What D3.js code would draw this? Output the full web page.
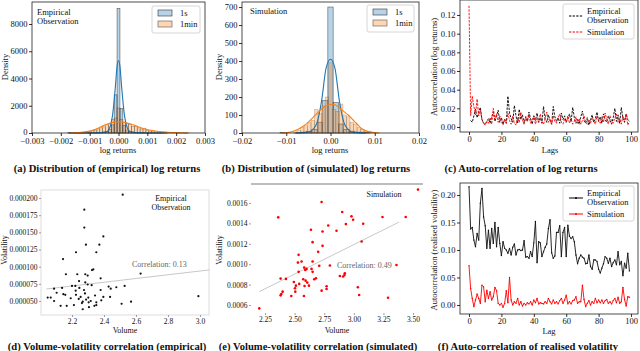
<!DOCTYPE html>
<html><head><meta charset="utf-8">
<script src="https://cdn.jsdelivr.net/npm/d3@7"></script>
<style>
body{margin:0;background:#fff}
svg{display:block}
</style>
</head><body>
<svg id="fig" width="640" height="351" style="font-family:'Liberation Serif','DejaVu Serif',serif"></svg>
<script>
// ---------- DATA ----------
// (a) empirical log returns
const a1sWidth = 0.0001;
const a1sCenters = [-0.0017,-0.0016,-0.0015,-0.0014,-0.0013,-0.0012,-0.0011,-0.001,-0.0009,-0.0008,-0.0007,-0.0006,-0.0005,-0.0004,-0.0003,-0.0002,-0.0001,0,0.0001,0.0002,0.0003,0.0004,0.0005,0.0006,0.0007,0.0008,0.0009,0.001,0.0011,0.0012,0.0013,0.0014,0.0015];
const a1sHeights = [10,5,10,8,10,12,15,15,18,20,30,40,60,120,250,600,2800,9150,1800,550,220,100,60,40,30,20,15,12,10,8,6,5,8];
const a1mWidth = 0.0001;
const a1mCenters = [-0.0017,-0.0016,-0.0015,-0.0014,-0.0013,-0.0012,-0.0011,-0.001,-0.0009,-0.0008,-0.0007,-0.0006,-0.0005,-0.0004,-0.0003,-0.0002,-0.0001,0,0.0001,0.0002,0.0003,0.0004,0.0005,0.0006,0.0007,0.0008,0.0009,0.001,0.0011,0.0012,0.0013,0.0014,0.0015,0.0016,0.0017,0.0018,0.0019,0.0021,0.0023,0.0024];
const a1mHeights = [30,0,20,40,30,60,90,120,180,220,300,380,450,600,700,1000,1100,1830,1000,800,720,650,480,500,380,300,350,220,150,100,80,60,40,30,20,10,10,5,5,5];
const aKde1sX = [-0.0017,-0.001,-0.0006,-0.0004,-0.0003,-0.0002,-0.0001,-0.00005,0,0.00005,0.0001,0.0002,0.0003,0.0004,0.0006,0.001,0.0017];
const aKde1sY = [0,5,30,100,400,1400,3600,4900,5300,4900,3600,1400,400,100,30,5,0];
const aKde1mX = [-0.0017,-0.0014,-0.0011,-0.0008,-0.0005,-0.0002,0,0.0002,0.0005,0.0008,0.0011,0.0014,0.0017,0.002,0.0024];
const aKde1mY = [5,30,100,280,560,780,830,790,600,360,200,110,60,25,5];

// (b) simulated log returns
const b1sWidth = 0.0012;
const b1sCenters = [-0.0108,-0.0072,-0.006,-0.0048,-0.0036,-0.0024,-0.0012,0,0.0012,0.0024,0.0036,0.0048,0.006,0.0072,0.0084];
const b1sHeights = [2,3,5,10,20,60,180,700,170,50,20,10,5,5,3];
const b1mWidth = 0.0008;
const b1mCenters = [-0.008,-0.0072,-0.0064,-0.0056,-0.0048,-0.004,-0.0032,-0.0024,-0.0016,-0.0008,0,0.0008,0.0016,0.0024,0.0032,0.004,0.0048,0.0056,0.0064,0.0072,0.008,0.0088];
const b1mHeights = [5,15,30,40,60,70,130,110,150,200,390,130,120,160,100,90,60,50,30,20,10,10];
const bKde1sX = [-0.008,-0.005,-0.004,-0.003,-0.002,-0.001,0,0.001,0.002,0.003,0.004,0.005,0.008];
const bKde1sY = [0,5,20,60,180,360,410,360,180,60,20,5,0];
const bKde1mX = [-0.011,-0.009,-0.007,-0.006,-0.005,-0.004,-0.003,-0.002,-0.001,0,0.0005,0.001,0.002,0.003,0.004,0.005,0.006,0.007,0.009,0.011];
const bKde1mY = [0,5,25,40,60,85,110,135,152,158,160,157,140,120,100,75,50,25,5,0];

// (c) autocorrelation of log returns
const cEmpLags = d3.range(1,100);
const cEmp = [0.007,0.005,0.012,0.019,0.01,0.016,0.021,0.008,0.004,0.003,
0.006,0.009,0.004,0.011,0.016,0.006,0.012,0.018,0.005,0.01,
0.003,0.008,0.004,0.033,0.015,0.009,0.005,0.023,0.012,0.004,
0.019,0.008,0.013,0.004,0.011,0.006,0.016,0.009,0.003,0.012,
0.007,0.015,0.005,0.01,0.004,0.022,0.009,0.005,0.013,0.007,
0.003,0.022,0.011,0.006,0.01,0.004,0.015,0.008,0.012,0.005,
0.009,0.014,0.006,0.021,0.01,0.004,0.008,0.003,0.011,0.017,
0.007,0.004,0.01,0.002,0.008,0.013,0.005,0.009,0.016,0.006,
0.011,0.004,0.014,0.008,0.005,0.012,0.007,0.003,0.01,0.02,
0.006,0.013,0.004,0.021,0.009,0.005,0.014,0.008,0.006];
const cSimLags = d3.range(0,100);
const cSim = [0.13,0.012,0.033,0.022,0.013,0.03,0.012,0.018,0.008,0.004,
0.002,0.006,0.004,0.01,0.003,0.02,0.008,0.014,0.005,0.012,
0.006,0.002,0.009,0.004,0.015,0.007,0.003,0.012,0.004,0.002,
0.01,0.005,0.016,0.007,0.003,0.011,0.006,0.013,0.004,0.008,
0.012,0.003,0.009,0.005,0.014,0.006,0.003,0.01,0.016,0.005,
0.008,0.003,0.012,0.006,0.004,0.01,0.014,0.005,0.003,0.009,
0.005,0.012,0.004,0.008,0.003,0.006,0.011,0.004,0.009,0.003,
0.007,0.012,0.005,0.003,0.008,0.004,0.01,0.006,0.003,0.012,
0.007,0.004,0.011,0.005,0.015,0.008,0.003,0.012,0.006,0.004,
0.01,0.014,0.005,0.009,0.003,0.012,0.007,0.014,0.002,0.006];

// (d) volume-volatility empirical
const dVolume = [2.517,2.277,2.277,2.396,2.287,2.371,2.144,2.225,2.352,2.162,2.233,2.283,2.298,2.325,2.333,2.379,2.629,2.244,2.283,2.298,2.2,2.221,2.323,2.529,2.429,2.442,2.477,2.138,2.088,2.246,2.275,2.223,2.379,2.104,2.146,2.158,2.225,2.281,2.254,2.344,2.396,2.438,2.302,2.048,2.067,2.192,2.242,2.288,2.088,2.267,2.317,2.383,2.352,2.569,2.99,2.51,2.129,2.167,2.212,2.262,2.304,2.34,2.352,2.306,2.267];
const dVolatility = [0.0002049,0.000183,0.000157,0.000144,0.000132,0.000132,0.000111,0.000121,0.000121,0.000089,0.000089,0.000089,0.000087,0.000095,0.000096,0.000083,0.00009,0.000079,0.000077,0.000074,0.000072,0.000072,0.000073,0.000072,0.000071,0.000068,0.00007,0.000069,0.000068,0.000069,0.000066,0.000065,0.000066,0.000062,0.00006,0.000059,0.000059,0.000061,0.000056,0.000058,0.000056,0.000056,0.000055,0.000055,0.000055,0.000054,0.000053,0.000052,0.00005,0.000049,0.00005,0.000051,0.000048,0.000049,0.000057,0.000046,0.000043,0.000043,0.000044,0.000047,0.000048,0.000043,0.000044,0.000041,0.000038];
const dFitX = [2.04,3.06];
const dFitY = [0.0000675,0.0000953];

// (e) volume-volatility simulated
const eVolume = [3.542,2.202,2.362,2.728,2.902,2.98,2.994,2.933,3.079,2.784,3.242,3.438,2.638,2.736,2.854,2.652,2.736,3.066,2.699,2.534,2.652,2.528,2.559,2.708,2.798,3.36,2.581,2.601,2.59,2.643,2.534,2.652,2.382,2.427,2.573,2.593,2.666,2.68,2.494,2.539,2.607,2.621,2.511,2.584,2.503,2.882,2.921,2.91,2.924,2.77,2.77,3.034,2.399,2.388,2.382,2.506,2.728,2.472,2.579,3.045,3.289];
const eVolatility = [0.001731,0.000567,0.001459,0.00161,0.001511,0.001469,0.001436,0.001393,0.001397,0.00138,0.001462,0.001462,0.001338,0.001321,0.001328,0.001216,0.00118,0.001223,0.001121,0.001092,0.001026,0.001016,0.001026,0.000984,0.000987,0.000993,0.000967,0.000954,0.000944,0.000954,0.000925,0.000925,0.000859,0.000856,0.000852,0.000839,0.000852,0.000862,0.000826,0.000807,0.00082,0.00079,0.00079,0.000787,0.000764,0.000885,0.000895,0.000879,0.000911,0.000784,0.000757,0.000774,0.000731,0.000708,0.000695,0.000731,0.000741,0.000689,0.000689,0.000698,0.000672];
const eFitX = [2.202,3.382];
const eFitY = [0.000731,0.001413];

// (f) autocorrelation of realised volatility
const fLags = d3.range(0,100);
const fEmp = [0.215,0.138,0.141,0.118,0.106,0.13,0.118,0.185,0.212,0.16,
0.144,0.103,0.136,0.103,0.139,0.112,0.15,0.106,0.141,0.112,
0.09,0.115,0.103,0.1,0.094,0.103,0.091,0.105,0.111,0.091,
0.1,0.101,0.099,0.1,0.117,0.087,0.088,0.085,0.097,0.088,
0.113,0.152,0.077,0.115,0.113,0.088,0.097,0.105,0.111,0.139,
0.155,0.095,0.085,0.089,0.132,0.132,0.144,0.088,0.132,0.141,
0.088,0.145,0.125,0.121,0.124,0.115,0.091,0.075,0.085,0.091,
0.087,0.085,0.075,0.076,0.091,0.07,0.065,0.082,0.082,0.079,
0.065,0.058,0.067,0.075,0.088,0.085,0.076,0.085,0.07,0.077,
0.082,0.073,0.097,0.073,0.079,0.053,0.076,0.067,0.094,0.062];
const fSim = [0.0715,0.03,0.012,-0.003,0.009,0.02,0.012,0.003,0.036,0.033,
0.006,0.027,0.012,0.024,0.009,0.015,0.032,0.026,0.003,0.0,
0.003,-0.004,0.003,0.026,0.004,0.05,0.009,0.0,0.006,0.003,
0.012,0.0,0.006,-0.002,0.003,0.0,0.004,0.002,0.006,0.0,
0.009,0.004,0.012,0.002,0.004,0.003,0.002,0.006,0.003,0.012,
0.006,0.002,0.009,0.003,0.006,0.002,0.008,0.012,0.003,0.009,
0.018,0.002,0.006,0.002,0.008,0.009,0.015,0.003,0.006,0.006,
0.036,0.01,-0.003,0.003,0.008,0.0,0.006,0.003,0.012,0.004,
0.009,0.004,0.009,0.003,0.008,0.01,0.003,0.006,0.002,0.008,
0.012,0.004,0.014,0.003,0.006,0.032,0.01,-0.002,0.015,0.014];

const captions = ["(a) Distribution of (empirical) log returns","(b) Distribution of (simulated) log returns","(c) Auto-correlation of log returns","(d) Volume-volatility correlation (empirical)","(e) Volume-volatility correlation (simulated)","(f) Auto-correlation of realised volatility"];

// ---------- DRAW ----------
const FONT = "'Liberation Serif','Times New Roman','DejaVu Serif',serif";
const svg = d3.select("#fig");
const BLUE = "#1f77b4", ORANGE = "#ff7f0e";
const blueFill = "rgba(31,119,180,0.32)", orangeFill = "rgba(255,127,14,0.32)";

function axes(g, x, y, xt, yt, xf, yf, opt) {
  opt = opt || {};
  const fs = opt.fs || 8.5;
  const col = opt.tickColor || "#000";
  const xa = g.append("g").attr("transform", `translate(0,${y.range()[0]})`)
    .call(d3.axisBottom(x).tickValues(xt).tickFormat(xf).tickSize(opt.ts===undefined?3:opt.ts).tickPadding(opt.xtp===undefined?1:opt.xtp));
  const ya = g.append("g").attr("transform", `translate(${x.range()[0]},0)`)
    .call(d3.axisLeft(y).tickValues(yt).tickFormat(yf).tickSize(opt.ts===undefined?3:opt.ts).tickPadding(opt.tp===undefined?1.5:opt.tp));
  [xa, ya].forEach(a => {
    a.attr("font-family", FONT).attr("font-size", fs);
    a.select(".domain").remove();
    a.selectAll("line").attr("stroke", col).attr("stroke-width", 0.8);
    a.selectAll("text").attr("font-family", FONT).attr("font-size", fs).attr("fill", "#111");
  });
  return {xa, ya};
}
function box(g, x, y, color, w) {
  g.append("rect").attr("x", x.range()[0]).attr("y", y.range()[1])
    .attr("width", x.range()[1]-x.range()[0]).attr("height", y.range()[0]-y.range()[1])
    .attr("fill", "none").attr("stroke", color).attr("stroke-width", w);
}
function label(x, y, txt, fs, rot, anchor, fill) {
  const t = svg.append("text").attr("x", x).attr("y", y).attr("font-size", fs)
    .attr("font-family", FONT)
    .attr("text-anchor", anchor || "middle").attr("fill", fill || "#111").text(txt);
  if (rot) t.attr("transform", `rotate(-90,${x},${y})`);
  return t;
}
function bars(g, x, y, centers, heights, width, fill, stroke, sop) {
  g.selectAll(null).data(centers).enter().append("rect")
    .attr("x", (d) => x(d - width/2))
    .attr("width", (d) => x(d + width/2) - x(d - width/2))
    .attr("y", (d,i) => y(heights[i]))
    .attr("height", (d,i) => y(0) - y(heights[i]))
    .attr("fill", fill).attr("stroke", stroke).attr("stroke-width", 0.6).attr("stroke-opacity", sop);
}
function curve(g, x, y, xs, ys, color, w, dash) {
  const p = g.append("path").datum(xs.map((v,i)=>[v,ys[i]]))
    .attr("d", d3.line().x(d=>x(d[0])).y(d=>y(d[1])).curve(d3.curveMonotoneX))
    .attr("fill","none").attr("stroke",color).attr("stroke-width",w);
  if (dash) p.attr("stroke-dasharray", dash);
  return p;
}
function polyline(g, x, y, xs, ys, color, w, dash) {
  const p = g.append("path").datum(xs.map((v,i)=>[v,ys[i]]))
    .attr("d", d3.line().x(d=>x(d[0])).y(d=>y(d[1])))
    .attr("fill","none").attr("stroke",color).attr("stroke-width",w);
  if (dash) p.attr("stroke-dasharray", dash);
  return p;
}
function histLegend(x0, y0, w, h) {
  svg.append("rect").attr("x",x0).attr("y",y0).attr("width",w).attr("height",h).attr("rx",2)
    .attr("fill","#fff").attr("stroke","#ccc").attr("stroke-width",0.8);
  svg.append("rect").attr("x",x0+6).attr("y",y0+4).attr("width",14).attr("height",6)
    .attr("fill",blueFill).attr("stroke","#333").attr("stroke-width",0.6);
  svg.append("rect").attr("x",x0+6).attr("y",y0+15).attr("width",14).attr("height",6)
    .attr("fill",orangeFill).attr("stroke","#555").attr("stroke-width",0.6);
  label(x0+28, y0+10, "1s", 8.5, false, "start");
  label(x0+28, y0+21, "1min", 8.5, false, "start");
}
function lineLegend(x0, y0, dash, marker) {
  svg.append("rect").attr("x",x0).attr("y",y0).attr("width",71).attr("height",35).attr("rx",2)
    .attr("fill","#fff").attr("fill-opacity",0.85).attr("stroke","#ccc").attr("stroke-width",0.8);
  const items = [["#000", y0+12], ["red", y0+28]];
  items.forEach(([c, yy]) => {
    const l = svg.append("line").attr("x1",x0+6).attr("x2",x0+20).attr("y1",yy).attr("y2",yy)
      .attr("stroke",c).attr("stroke-width",1);
    if (dash) l.attr("stroke-dasharray", dash);
    if (marker) svg.append("circle").attr("cx",x0+13).attr("cy",yy).attr("r",1).attr("fill",c);
  });
  label(x0+24, y0+10, "Empirical", 8.5, false, "start");
  label(x0+24, y0+19, "Observation", 8.5, false, "start");
  label(x0+24, y0+31, "Simulation", 8.5, false, "start");
}

// ----- (a)
{
  const g = svg.append("g");
  const x = d3.scaleLinear().domain([-0.003,0.003]).range([32,205]);
  const y = d3.scaleLinear().domain([0,9615]).range([133,2]);
  bars(g, x, y, a1sCenters, a1sHeights, a1sWidth, blueFill, "#222", 0.7);
  bars(g, x, y, a1mCenters, a1mHeights, a1mWidth, orangeFill, "#333", 0.5);
  curve(g, x, y, aKde1sX, aKde1sY, BLUE, 1.1);
  curve(g, x, y, aKde1mX, aKde1mY, ORANGE, 1.1);
  box(g, x, y, "#222", 0.8);
  const ax = axes(g, x, y, [-0.003,-0.002,-0.001,0,0.001,0.002,0.003], [0,2000,4000,6000,8000], d3.format(".3f"), d3.format("d"), {xtp:2});
  ax.ya.selectAll(".tick text").filter(d => d === 0).attr("dy", "0.2em");
  label(37, 15, "Empirical", 8.5, false, "start");
  label(37, 24, "Observation", 8.5, false, "start");
  histLegend(152, 6, 48, 27);
  label(118, 153, "log returns", 8.5);
  label(8, 67, "Density", 8.5, true);
}
// ----- (b)
{
  const g = svg.append("g");
  const x = d3.scaleLinear().domain([-0.02,0.02]).range([242,419]);
  const y = d3.scaleLinear().domain([0,728]).range([133,2]);
  bars(g, x, y, b1sCenters, b1sHeights, b1sWidth, blueFill, "#222", 0.7);
  bars(g, x, y, b1mCenters, b1mHeights, b1mWidth, orangeFill, "#444", 0.35);
  curve(g, x, y, bKde1sX, bKde1sY, BLUE, 1.1);
  curve(g, x, y, bKde1mX, bKde1mY, ORANGE, 1.1);
  box(g, x, y, "#222", 0.8);
  const ax = axes(g, x, y, [-0.02,-0.01,0,0.01,0.02], d3.range(0,701,100), d3.format(".2f"), d3.format("d"), {xtp:2});
  ax.ya.selectAll(".tick text").filter(d => d === 0).attr("dy", "0.2em");
  label(250, 14, "Simulation", 8.5, false, "start");
  histLegend(367, 5, 47, 27);
  label(330, 153, "log returns", 8.5);
  label(222, 67, "Density", 8.5, true);
}
// ----- (c)
{
  const g = svg.append("g");
  const x = d3.scaleLinear().domain([-5.56,104.3]).range([460,638]);
  const y = d3.scaleLinear().domain([-0.00536,0.1361]).range([132,0]);
  polyline(g, x, y, cEmpLags, cEmp, "#000", 0.9, "2.4,1.2");
  polyline(g, x, y, cSimLags, cSim, "red", 0.9, "2.4,1.2");
  box(g, x, y, "#222", 0.8);
  axes(g, x, y, d3.range(0,101,20), d3.range(0,0.121,0.02), d3.format("d"), d3.format(".2f"));
  lineLegend(563, 4, "2.4,1.2", false);
  label(550, 153, "Lags", 8.5);
  label(437, 67, "Autocorrelation (log returns)", 8.5, true);
}
// ----- (d)
{
  const g = svg.append("g");
  const x = d3.scaleLinear().domain([2.0063,3.05625]).range([41,209]);
  const y = d3.scaleLinear().domain([0.0000296,0.0002117]).range([315,190]);
  box(g, x, y, "#d4d4d4", 0.8);
  polyline(g, x, y, dFitX, dFitY, "#c8c8c8", 1);
  g.selectAll(null).data(dVolume).enter().append("circle")
    .attr("cx", d=>x(d)).attr("cy", (d,i)=>y(dVolatility[i])).attr("r", 1.1).attr("fill", "#111");
  axes(g, x, y, [2.2,2.4,2.6,2.8,3.0], d3.range(0.00005,0.000201,0.000025), d3.format(".1f"), d3.format(".6f"),
       {fs:7.5, ts:2, tp:1.5, xtp:1.5, tickColor:"#888"});
  label(132, 267, "Correlation: 0.13", 8, false, "start", "#666");
  label(171, 201, "Empirical", 8, false, "middle");
  label(171, 210, "Observation", 8, false, "middle");
  label(125, 333, "Volume", 8);
  label(7, 250, "Volatility", 8, true);
}
// ----- (e)
{
  const g = svg.append("g");
  const x = d3.scaleLinear().domain([2.132,3.584]).range([251,423]);
  const y = d3.scaleLinear().domain([0.000522,0.001786]).range([313,184]);
  g.append("line").attr("x1",251).attr("x2",423).attr("y1",184).attr("y2",184).attr("stroke","#bdbdbd").attr("stroke-width",2);
  polyline(g, x, y, eFitX, eFitY, "#c8c8c8", 1);
  g.selectAll(null).data(eVolume).enter().append("circle")
    .attr("cx", d=>x(d)).attr("cy", (d,i)=>y(eVolatility[i])).attr("r", 1.3).attr("fill", "red");
  axes(g, x, y, [2.25,2.5,2.75,3.0,3.25,3.5], d3.range(0.0006,0.00161,0.0002), d3.format(".2f"), d3.format(".4f"),
       {fs:7.5, ts:2, tp:1.5, xtp:1.5, tickColor:"#888"});
  label(337, 268, "Correlation: 0.49", 8, false, "start", "#666");
  label(384, 197, "Simulation", 8, false, "middle");
  label(337, 333, "Volume", 8);
  label(222, 250, "Volatility", 8, true);
}
// ----- (f)
{
  const g = svg.append("g");
  const x = d3.scaleLinear().domain([-5.56,104.3]).range([460,638]);
  const y = d3.scaleLinear().domain([-0.01636,0.2218]).range([314,183]);
  [[fEmp,"#111"],[fSim,"red"]].forEach(([vals,c]) => {
    polyline(g, x, y, fLags, vals, c, 0.9);
    g.selectAll(null).data(vals).enter().append("circle")
      .attr("cx",(d,i)=>x(fLags[i])).attr("cy",d=>y(d)).attr("r",0.7).attr("fill",c);
  });
  box(g, x, y, "#222", 0.8);
  axes(g, x, y, d3.range(0,101,20), [0,0.05,0.1,0.15,0.2], d3.format("d"), d3.format(".2f"));
  lineLegend(563, 186, null, true);
  label(549, 334, "Lag", 8.5);
  label(437, 250, "Autocorrelation (realised volatility)", 8.5, true);
}
// ----- captions
const capPos = [[107,172],[316,172],[521,172],[107,350],[318,350],[528,350]];
captions.forEach((c,i) => {
  svg.append("text").attr("x",capPos[i][0]).attr("y",capPos[i][1]).attr("text-anchor","middle")
    .attr("font-family", FONT).attr("font-size",10.6).attr("font-weight","bold").attr("fill","#111").text(c);
});
</script>
</body></html>
